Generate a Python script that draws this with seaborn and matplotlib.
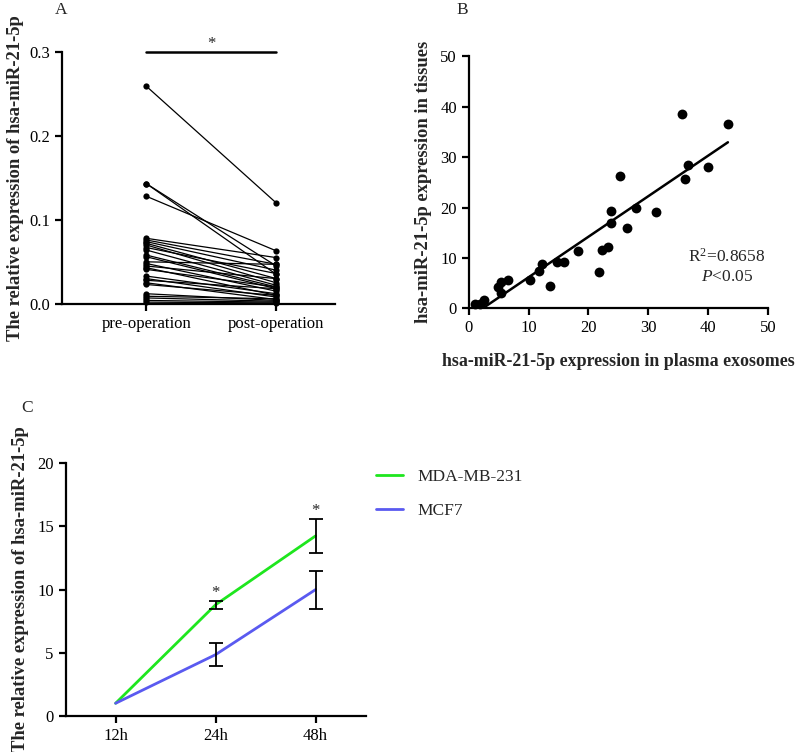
import numpy as np
import pandas as pd
import seaborn as sns
import matplotlib.pyplot as plt

# panel A: paired values before / after surgery
pre_op = [0.259, 0.143, 0.143, 0.128, 0.078, 0.076, 0.074, 0.072, 0.070, 0.067,
          0.064, 0.058, 0.056, 0.050, 0.048, 0.045, 0.043, 0.041, 0.033, 0.030,
          0.028, 0.025, 0.023, 0.012, 0.009, 0.007, 0.004, 0.002]
post_op = [0.120, 0.045, 0.035, 0.063, 0.055, 0.047, 0.040, 0.030, 0.025, 0.036,
           0.022, 0.020, 0.018, 0.047, 0.015, 0.030, 0.010, 0.020, 0.012, 0.008,
           0.018, 0.005, 0.010, 0.004, 0.006, 0.003, 0.002, 0.001]
groups = ['pre-operation', 'post-operation']

# panel B: plasma exosomes vs tissues
exo = [1.1, 1.8, 2.6, 4.8, 5.4, 5.3, 6.6, 10.3, 11.7, 12.3, 13.5, 14.8, 15.9,
       18.2, 21.7, 22.2, 23.2, 23.7, 23.7, 25.2, 26.4, 28.0, 31.2, 35.7, 36.2,
       36.7, 39.9, 43.3]
tissue = [0.8, 0.9, 1.6, 4.2, 5.2, 3.0, 5.6, 5.7, 7.5, 8.7, 4.4, 9.1, 9.1,
          11.4, 7.2, 11.6, 12.2, 19.4, 16.9, 26.3, 15.9, 20.0, 19.2, 38.5, 25.6,
          28.4, 28.0, 36.6]

# panel C: time course
times = ['12h', '24h', '48h']
mda_mean = [1.0, 8.8, 14.25]
mda_err = [0.0, 0.3, 1.35]
mcf_mean = [1.0, 4.85, 10.0]
mcf_err = [0.0, 0.93, 1.5]

sns.set_theme(style='ticks')
plt.rcParams['font.family'] = ['Liberation Serif', 'DejaVu Serif']
plt.rcParams['mathtext.fontset'] = 'custom'
plt.rcParams['mathtext.it'] = 'Liberation Serif:italic'
plt.rcParams['mathtext.rm'] = 'Liberation Serif'
plt.rcParams['axes.linewidth'] = 1.6
plt.rcParams['xtick.major.width'] = 1.6
plt.rcParams['ytick.major.width'] = 1.6
plt.rcParams['xtick.major.size'] = 5
plt.rcParams['ytick.major.size'] = 5
plt.rcParams['xtick.color'] = 'black'
plt.rcParams['ytick.color'] = 'black'
plt.rcParams['axes.edgecolor'] = 'black'

LBL = 13.4

fig = plt.figure(figsize=(8, 7.52), dpi=100)
axA = fig.add_axes([0.0775, 0.596, 0.341, 0.335])
axB = fig.add_axes([0.586, 0.590, 0.374, 0.335])
axC = fig.add_axes([0.082, 0.048, 0.375, 0.336])

# ---- A
n = len(pre_op)
dfA = pd.DataFrame({
    'subject': list(range(n)) * 2,
    'group': [groups[0]] * n + [groups[1]] * n,
    'value': pre_op + post_op,
})
dfA['pos'] = dfA['group'].map({groups[0]: 0, groups[1]: 1})
sns.lineplot(data=dfA, x='pos', y='value', units='subject', estimator=None,
             color='black', lw=0.9, marker='o', markersize=4.5,
             markeredgewidth=0, ax=axA, clip_on=False)
axA.set_xlim(-0.65, 1.45)
axA.set_ylim(0, 0.3)
axA.set_xticks([0, 1])
axA.set_xticklabels(groups, fontsize=12)
axA.set_yticks([0, 0.1, 0.2, 0.3])
axA.set_yticklabels(['0.0', '0.1', '0.2', '0.3'], fontsize=12)
axA.set_xlabel('')
axA.set_ylabel('The relative expression of hsa-miR-21-5p', fontsize=LBL,
               fontweight='bold', labelpad=4)
axA.plot([0, 1], [0.3, 0.3], color='black', lw=1.8, clip_on=False)
axA.text(0.5, 0.309, '*', ha='center', va='center', fontsize=12)
sns.despine(ax=axA)

# ---- B
sns.regplot(x=exo, y=tissue, ci=None, ax=axB, color='black',
            scatter_kws={'s': 50, 'alpha': 1, 'linewidths': 0, 'clip_on': False},
            line_kws={'lw': 1.8})
axB.set_xlim(0, 50)
axB.set_ylim(0, 50)
axB.set_xticks(range(0, 51, 10))
axB.set_yticks(range(0, 51, 10))
axB.tick_params(labelsize=12)
axB.set_xlabel('hsa-miR-21-5p expression in plasma exosomes', fontsize=12.9,
               fontweight='bold', labelpad=12)
axB.set_ylabel('hsa-miR-21-5p expression in tissues', fontsize=LBL,
               fontweight='bold', labelpad=6)
axB.text(43.1, 10.2, 'R$^2$=0.8658', ha='center', va='center', fontsize=12.5)
axB.text(43.1, 6.2, r'$\it{P}$<0.05', ha='center', va='center', fontsize=12.5)
sns.despine(ax=axB)

# ---- C
dfC = pd.DataFrame({
    'time': times * 2,
    'value': mda_mean + mcf_mean,
    'err': mda_err + mcf_err,
    'line': ['MDA-MB-231'] * 3 + ['MCF7'] * 3,
})
dfC['pos'] = list(range(3)) * 2
sns.lineplot(data=dfC, x='pos', y='value', hue='line',
             palette={'MDA-MB-231': '#1ee61e', 'MCF7': '#5a5af0'},
             lw=2, ax=axC)
for name, sub in dfC.groupby('line'):
    sub = sub[sub['err'] > 0]
    axC.errorbar(sub['pos'], sub['value'], yerr=sub['err'], fmt='none',
                 ecolor='black', elinewidth=1.3, capsize=5, capthick=1.3)
mda = dfC[dfC['line'] == 'MDA-MB-231']
for p, v, e in zip(mda['pos'][1:], mda['value'][1:], mda['err'][1:]):
    axC.text(p, v + e, '*', ha='center', va='bottom', fontsize=12)
axC.set_xlim(-0.5, 2.5)
axC.set_ylim(0, 20)
axC.set_xticks(range(3))
axC.set_xticklabels(times, fontsize=12)
axC.set_yticks(range(0, 21, 5))
axC.tick_params(axis='y', labelsize=12)
axC.set_xlabel('')
axC.set_ylabel('The relative expression of hsa-miR-21-5p', fontsize=LBL,
               fontweight='bold', labelpad=6)
axC.legend(title=None, frameon=False, loc='upper left',
           bbox_to_anchor=(1.034, 0.977), fontsize=12.5, handlelength=1.55,
           handletextpad=0.86, labelspacing=1.0, borderaxespad=0, borderpad=0)
sns.despine(ax=axC)

fig.text(0.069, 0.998, 'A', fontsize=12.5, va='top')
fig.text(0.571, 0.998, 'B', fontsize=12.5, va='top')
fig.text(0.026, 0.468, 'C', fontsize=12.5, va='top')

fig.savefig('out.png', dpi=100)
